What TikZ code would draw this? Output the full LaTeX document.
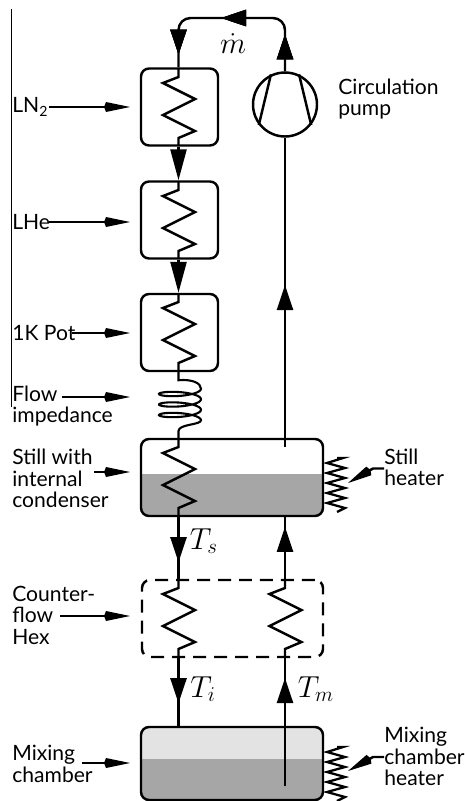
\documentclass[tikz,border=0pt]{standalone}
\usepackage{fontspec}
\setmainfont{Lato}
\usepackage{amsmath}
\usetikzlibrary{arrows.meta, positioning, decorations.markings}
\definecolor{liquid}{HTML}{A6A6A6}
\definecolor{dilute}{HTML}{E3E3E3}
\tikzset{%
	pipe/.style={
		line width=1.4pt
	},
	vessel/.style={
		draw,
		line width=1.4pt,
		rounded corners=0.16cm,
		inner sep=0pt
	},
	label/.style={
		anchor=west,
		align=left,
		inner sep=0pt,
		font=\fontsize{12}{12.2}\selectfont
	},
	symbol/.style={
		inner sep=0pt,
		font=\fontsize{17}{17}\selectfont
	},
	feed/.style={
		line width=1.4pt,
		-{Kite[length=0.52cm,width=0.2cm,inset=0.04cm]}
	},
	tip at/.style={
		postaction={decorate},
		decoration={markings,
			mark=at position #1 with {\arrow{Triangle[length=0.5cm,width=0.32cm]}}
		}
	},
	long tip/.style={
		-{Triangle[length=0.62cm,width=0.32cm]}
	},
}
% heat exchanger, 77 px high, hanging from (x,y)
\newcommand{\zigcoil}[2]{
	\draw[pipe] (#1,#2) -- ++(0,8) -- ++(-15.5,6) -- ++(32,16) -- ++(-32,16)
		-- ++(32,16) -- ++(-16.5,7) -- ++(0,8);
}
% heater element beside a vessel
\newcommand{\sideheater}[2]{
	\draw[line width=1.3pt] (#1,#2) -- ++(6,0) -- ++(-16,5)
		\foreach \i in {1,...,4} { -- ++(18,5) -- ++(-18,5) } -- ++(18,5) -- ++(-8,4);
}
\begin{document}
\begin{tikzpicture}[x=0.02cm,y=-0.02cm]
	\useasboundingbox (0,0) rectangle (464,801);

	% Reference columns of the two pipes
	\coordinate (pipel) at (178.5,0);
	\coordinate (piper) at (285,0);

	% Thin line at the left edge
	\coordinate (edgetop) at (11.5,9);
	\coordinate (edgebot) at (11.5,407);
	\draw[line width=0.5pt] (edgetop) -- (edgebot);

	% Fills of the two chambers
	\fill[liquid, rounded corners=0.16cm] (141,474) [sharp corners] -- (323,474) [rounded corners=0.16cm] -- (323,516) -- (141,516) [sharp corners] -- cycle;
	\fill[dilute, rounded corners=0.16cm] (141,727) rectangle (323,800);
	\fill[liquid, rounded corners=0.16cm] (141,759) [sharp corners] -- (323,759) [rounded corners=0.16cm] -- (323,800) -- (141,800) [sharp corners] -- cycle;

	% Vessels
	\node[vessel, minimum width=1.54cm, minimum height=1.54cm] (lnbox) at (179.5,107) {};
	\node[vessel, minimum width=1.54cm, minimum height=1.54cm] (hebox) at (179.5,220) {};
	\node[vessel, minimum width=1.54cm, minimum height=1.54cm] (potbox) at (179.5,332.5) {};
	\node[vessel, minimum width=3.64cm, minimum height=1.54cm] (still) at (232,477.5) {};
	\node[vessel, dashed, dash pattern=on 0.26cm off 0.16cm, minimum width=3.62cm, minimum height=1.54cm] (hex) at (232.5,618.5) {};
	\node[vessel, minimum width=3.64cm, minimum height=1.46cm] (mixer) at (232,763.5) {};

	% Pump
	\node[circle, draw, line width=1.4pt, minimum size=1.28cm, inner sep=0pt] (pump) at (285,104.5) {};
	\draw[pipe] (pump.115) -- (pump.218);
	\draw[pipe] (pump.65) -- (pump.-38);

	% Coils
	\zigcoil{178.5}{69}
	\zigcoil{178.5}{182}
	\zigcoil{178.5}{294}
	\zigcoil{178.5}{439}
	\zigcoil{178.5}{580}
	\zigcoil{285}{580}

	% Flow impedance
	\draw[line width=1.2pt] (potbox.south -| pipel) -- ++(0,8)
		.. controls (192,379) and (201,383) .. (201,388.75)
		-- plot[smooth, samples=90, domain=0:1080] ({180+21*cos(\x)},{388.75+10.5*\x/360+4.5*sin(\x)})
		.. controls (201,425) and (178.5,424) .. (178.5,431)
		-- (still.north -| pipel);

	% Pipes
	\draw[pipe, rounded corners=0.24cm, tip at=0.74cm, tip at=2.24cm, tip at=3.72cm] (pump.north) -- (285,18) -- (178.5,18) -- (lnbox.north -| pipel);
	\draw[pipe, long tip] (lnbox.south -| pipel) -- (hebox.north -| pipel);
	\draw[pipe, long tip] (hebox.south -| pipel) -- (potbox.north -| pipel);
	\draw[pipe, tip at=0.9cm] (still.south -| pipel) -- (hex.north -| pipel);
	\draw[pipe, tip at=0.9cm] (hex.south -| pipel) -- (mixer.north -| pipel);
	\coordinate (mixend) at (285,786);
	\coordinate (stillend) at (285,447);
	\draw[pipe, tip at=2.16cm] (mixend) -- (hex.south -| piper);
	\draw[pipe, tip at=1.04cm] (hex.north -| piper) -- (still.south -| piper);
	\draw[pipe, tip at=3.24cm] (stillend) -- (pump.south);

	% Labels
	\node[label] (lnlabel) at (12,107) {LN\textsubscript{2}};
	\node[label] (helabel) at (12,222) {LHe};
	\node[label] (potlabel) at (12,333) {1K Pot};
	\node[label] (flowlabel) at (12,406) {Flow\\impedance};
	\node[label] (stilllabel) at (12,478.5) {Still with\\internal\\condenser};
	\node[label] (hexlabel) at (12,615) {Counter-\\flow\\Hex};
	\node[label] (mixlabel) at (12,764) {Mixing\\chamber};
	\node[label] (pumplabel) at (338,99) {Circulation\\pump};
	\node[label] (stillheat) at (384,467.5) {Still\\heater};
	\node[label] (mixheat) at (384,756.5) {Mixing\\chamber\\heater};

	% Symbols
	\node[symbol] (mdot) at (233,44) {$\dot{m}$};
	\node[symbol] (ts) at (204,541) {$T_s$};
	\node[symbol] (ti) at (203,689) {$T_i$};
	\node[symbol] (tm) at (316,689) {$T_m$};

	% Feed arrows towards the vessels
	\foreach \feedname/\startx/\feedy in {ln/49/107, he/49/222, pot/72/333, flow/62/397, still/94/472, hex/60/616, mix/82/763} {
		\coordinate (\feedname start) at (\startx,\feedy);
		\coordinate (\feedname end) at (130,\feedy);
		\draw[feed] (\feedname start) -- (\feedname end);
	}

	% Heaters
	\sideheater{337}{458}
	\sideheater{337}{747}
	\coordinate (stillbend) at (373,468.5);
	\coordinate (stilltip) at (348,483);
	\coordinate (mixbend) at (373,757);
	\coordinate (mixtip) at (348,771);
	\draw[feed] (stillheat.west |- stillbend) -- (stillbend) -- (stilltip);
	\draw[feed] (mixheat.west |- mixbend) -- (mixbend) -- (mixtip);
\end{tikzpicture}
\end{document}
